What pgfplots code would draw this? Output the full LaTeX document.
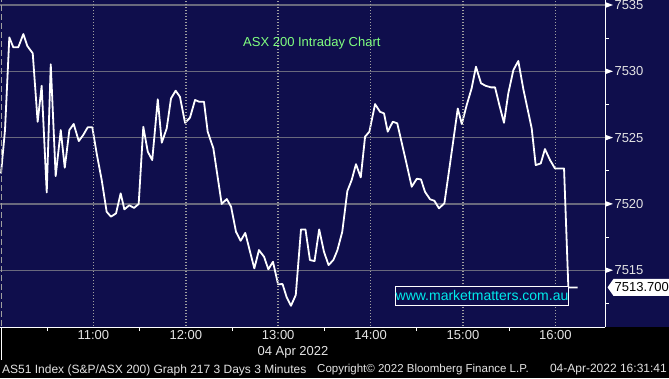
\documentclass[border=0pt]{standalone}
\usepackage{fontspec}
\setmainfont{Liberation Sans}
\usepackage{pgfplots}
\pgfplotsset{compat=1.18}
\definecolor{bbnavy}{RGB}{15,14,76}
\definecolor{gridgray}{RGB}{160,160,160}
\definecolor{griddim}{RGB}{105,105,125}
\definecolor{lbl}{RGB}{228,228,228}
\definecolor{ttl}{RGB}{128,255,128}
\definecolor{wm}{RGB}{0,235,235}
\begin{document}
\begin{tikzpicture}
\fill[black] (0pt,-51pt) rectangle (669pt,0pt);
\fill[bbnavy] (0pt,0pt) rectangle (669pt,327pt);
\path[use as bounding box] (0pt,-51pt) rectangle (669pt,327pt);
\draw[griddim, line width=1.2pt] (0pt,322pt) -- (605pt,322pt);
\draw[griddim, line width=1.2pt] (0pt,255.7pt) -- (605pt,255.7pt);
\draw[griddim, line width=1.2pt] (0pt,189.4pt) -- (605pt,189.4pt);
\draw[griddim, line width=1.2pt] (0pt,123.1pt) -- (605pt,123.1pt);
\draw[griddim, line width=1.2pt] (0pt,56.8pt) -- (605pt,56.8pt);
\begin{axis}[
 at={(0pt,0pt)}, anchor=south west,
 scale only axis, width=605pt, height=327pt,
 xmin=-0.65, xmax=392.2, ymin=7510.72, ymax=7535.38,
 axis x line*=bottom, axis y line*=right,
 axis line style={white, line width=1pt, -},
 xtick={60,120,...,360}, xticklabels={11:00,12:00,13:00,14:00,15:00,16:00},
 minor xtick={30,90,...,330},
 ytick={7515,7520,7525,7530,7535}, yticklabels={7515,7520,7525,7530,7535},
 minor ytick={7512.5,7517.5,7522.5,7527.5,7532.5},
 major tick length=0pt, minor tick length=4pt,
 tick align=outside,
 tick style={white, line width=1pt},
 xticklabel style={font=\fontsize{13}{15}\selectfont, text=lbl},
 yticklabel style={font=\fontsize{13}{15}\selectfont, text=lbl, xshift=6pt},
]
\addplot[white, line width=1.8pt, line join=round] coordinates {
(0,7522.3) (2.6,7525.57) (5.4,7532.56) (8.0,7531.81) (11.2,7531.81) (14.5,7532.81)
(17.1,7531.91) (20.6,7531.36) (23.8,7526.2) (26.4,7528.91) (29.7,7520.87) (32.3,7530.53)
(35.5,7522.1) (38.8,7525.57) (41.4,7522.73) (44.4,7525.57) (47.2,7526.03) (50.5,7524.74)
(53.4,7525.2) (56.3,7525.78) (59.3,7525.78) (62.1,7523.82) (65.4,7521.8) (68.6,7519.41)
(71.4,7519.04) (74.7,7519.29) (77.7,7520.8) (80.1,7519.59) (83.3,7519.9) (86.4,7519.7)
(89.4,7520.0) (92.4,7525.82) (95.3,7523.94) (98.2,7523.31) (101.8,7527.89) (104.4,7524.62)
(107.6,7525.7) (110.4,7527.96) (113.4,7528.54) (116.2,7528.08) (119.5,7526.12) (122.7,7526.5)
(126.0,7527.84) (128.6,7527.71) (131.8,7527.71) (134.2,7525.45) (137.9,7524.19) (143.3,7520.0)
(146.6,7520.37) (149.4,7519.79) (152.6,7517.9) (155.6,7517.22) (158.6,7517.82) (161.7,7516.4)
(164.5,7515.14) (167.5,7516.52) (170.8,7516.02) (173.6,7515.07) (176.6,7515.64) (179.9,7513.94)
(182.8,7513.96) (185.5,7512.96) (188.3,7512.32) (191.4,7513.13) (194.8,7518.08) (197.7,7518.08)
(200.6,7515.77) (203.6,7515.69) (206.6,7518.08) (209.7,7516.4) (212.7,7515.39) (215.8,7515.77)
(218.4,7516.5) (221.6,7517.9) (224.9,7520.97) (227.7,7521.8) (230.5,7523.0) (233.6,7522.0)
(236.4,7525.07) (239.2,7525.45) (242.9,7527.53) (246.1,7526.95) (248.7,7526.83) (251.1,7525.45)
(254.4,7526.2) (257.3,7526.08) (262.3,7523.56) (266.7,7521.3) (270.0,7521.9) (272.7,7521.85)
(275.3,7520.92) (278.6,7520.35) (281.4,7520.24) (284.4,7519.67) (287.9,7520.05) (291.6,7523.06)
(294.2,7525.2) (296.6,7527.2) (299.2,7526.03) (302.4,7527.46) (305.6,7528.72) (308.4,7530.35)
(311.7,7529.1) (314.7,7528.91) (318.2,7528.79) (320.8,7528.79) (323.6,7527.46) (326.6,7526.12)
(329.4,7528.34) (332.7,7530.1) (335.9,7530.78) (339.2,7528.64) (344.6,7525.7) (347.2,7522.93)
(350.5,7523.06) (353.2,7524.14) (356.5,7523.31) (359.7,7522.68) (365.6,7522.68) (368.4,7513.7)
(374.5,7513.7)
};
\end{axis}
% dotted vertical grid as small squares
\foreach \xx in {93.4,185.8,278.2,370.6,463,555.4}{
  \foreach \k in {0,...,108}{
    \fill[gridgray] (\xx pt-0.75pt,\k*3pt+0.7pt) rectangle ++(1.5pt,1.5pt);
  }
}
\foreach \k in {0,...,36}{
  \fill[gridgray] (0.8pt,\k*9pt+1pt) rectangle ++(1.5pt,6pt);
}
\foreach \yy in {322,255.7,189.4,123.1,56.8}{
  \fill[white] (605pt,\yy pt) ++(0pt,3pt) -- ++(8pt,-3pt) -- ++(-8pt,-3pt) -- cycle;
}
\fill[white] (607.5pt,39.6pt) -- ++(6pt,8.5pt) -- ++(70pt,0pt) -- ++(0pt,-17pt) -- ++(-70pt,0pt) -- cycle;
\node[anchor=west, text=black, font=\fontsize{13}{15}\selectfont, inner sep=0pt] at (614.5pt,39.6pt) {7513.700};
\node[anchor=west, text=ttl, font=\fontsize{13}{15}\selectfont, inner sep=0pt] at (243pt,284pt) {ASX 200 Intraday Chart};
\node[draw=white, fill=bbnavy, line width=1pt, text=wm, font=\fontsize{14}{16}\selectfont, inner sep=0pt, minimum width=166pt, minimum height=19pt] at (482pt,31.5pt) {www.marketmatters.com.au};
\draw[white, line width=1pt] (1.5pt,0pt) -- (1.5pt,-33pt);
\node[text=lbl, font=\fontsize{13}{15}\selectfont, inner sep=0pt] at (293pt,-25.7pt) {04 Apr 2022};
\node[anchor=west, text=lbl, font=\fontsize{12}{14}\selectfont, inner sep=0pt] at (2pt,-43pt) {AS51 Index (S\&P/ASX 200) Graph 217 3 Days 3 Minutes};
\node[anchor=west, text=lbl, font=\fontsize{11.5}{14}\selectfont, inner sep=0pt] at (317pt,-43pt) {Copyright© 2022 Bloomberg Finance L.P.};
\node[anchor=east, text=lbl, font=\fontsize{12}{14}\selectfont, inner sep=0pt] at (667pt,-43pt) {04-Apr-2022 16:31:41};
\end{tikzpicture}
\end{document}
